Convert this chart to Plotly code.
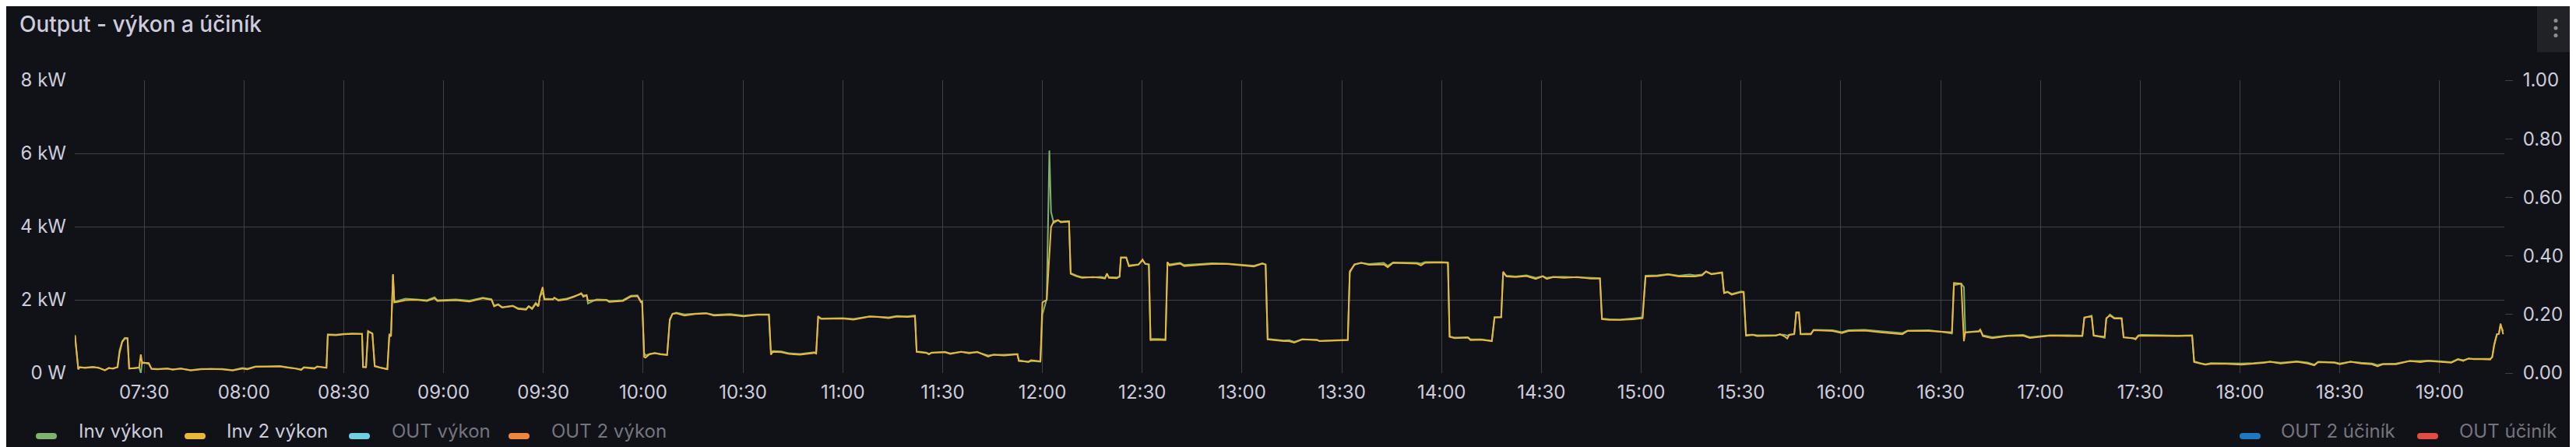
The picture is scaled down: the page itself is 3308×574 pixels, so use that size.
import plotly.graph_objects as go
from datetime import datetime, timedelta

# ---------------- data ----------------
# time in minutes after 07:00
t_min = [
    9.2, 10.2, 10.6, 12.2, 14.6, 16.2, 18.2, 19.4, 20.6, 22.0,
    22.6, 23.4, 24.2, 25.0, 25.5, 27.0, 28.5, 29.0, 29.4, 29.8,
    31.4, 32.2, 34.0, 37.0, 38.6, 41.0, 44.0, 47.0, 50.0, 53.4,
    56.6, 59.5, 61.0, 63.5, 67.0, 70.8, 73.0, 75.6, 77.2, 78.0,
    81.2, 82.0, 84.8, 85.2, 87.6, 90.0, 92.6, 95.5, 95.8, 96.7,
    97.3, 98.6, 99.3, 101.0, 103.1, 103.7, 104.2, 104.8, 105.2, 106.1,
    108.5, 111.8, 115.0, 117.3, 118.1, 123.7, 127.8, 131.8,
    134.4, 135.2, 136.4, 137.6, 140.8, 142.4, 144.8, 145.6, 146.6, 147.7,
    148.5, 149.0, 149.8, 150.3, 152.9, 153.3, 154.5, 156.9, 159.4, 161.4,
    162.0, 163.0, 163.4, 166.0, 169.0, 169.8, 173.9, 176.3, 178.3, 179.3,
    179.7, 180.3, 180.7, 181.9, 183.5, 185.2, 187.2, 188.0, 188.8, 190.0,
    192.4, 195.6, 198.9, 201.3, 206.1, 210.2, 214.2, 217.8, 218.4, 219.0,
    221.5, 223.9, 227.1, 231.5, 232.0, 232.6, 233.5, 240.0, 243.2, 248.1,
    250.5, 253.8, 256.2, 259.4, 261.7, 262.2, 265.1, 265.9, 266.7, 270.7,
    272.3, 275.6, 278.0, 280.4, 283.7, 285.3, 288.5, 292.5, 292.9, 295.8,
    296.6, 299.4, 300.0, 301.3, 302.1, 302.6, 303.4, 304.7, 305.5, 308.0,
    308.5, 310.3, 311.9, 315.2, 317.6, 318.8, 319.4, 320.0, 322.4, 323.2,
    323.6, 325.2, 326.0, 328.9, 330.1, 330.9, 332.0, 332.5, 334.5, 337.0,
    337.6, 338.2, 341.4, 342.6, 347.5, 351.0, 355.6, 360.0, 363.6, 366.1,
    367.1, 367.7, 370.9,
    372.5, 374.1, 375.7, 378.1, 382.5, 383.3, 386.1, 391.8, 392.4, 393.8,
    395.8, 398.2, 402.6, 403.8, 405.4, 412.6, 413.8, 415.0, 419.9, 421.9,
    422.4, 423.9, 427.9, 428.7, 431.9, 435.1, 435.9, 437.9, 438.5, 439.5,
    442.3, 445.5, 448.3, 450.4, 451.6, 453.6, 456.8, 460.8, 464.8, 467.6,
    468.2, 470.4, 473.6, 477.6, 480.4, 481.3, 484.9, 488.1, 491.3, 494.5,
    496.2, 498.3, 499.5, 501.1, 504.3, 504.9, 506.0, 507.2, 510.0, 510.8,
    511.5, 513.6, 514.8, 520.5, 521.7, 522.9, 523.9, 524.5, 526.0, 526.6,
    527.4, 527.9, 531.0, 531.8, 537.5, 540.3, 542.3, 547.2, 552.0, 558.5,
    560.1, 566.5, 570.6, 573.4, 574.0, 576.2, 577.0, 577.4, 581.5, 581.9,
    582.7, 585.5, 590.0, 594.8, 596.8, 599.7, 602.9, 608.5, 612.6, 613.2,
    615.4, 616.0,
    619.3, 619.8, 620.9, 622.2, 624.4, 625.0, 627.8, 628.6, 629.4, 630.2,
    635.9, 641.5, 645.6, 646.2, 648.0, 649.6, 651.2, 656.0, 660.5, 664.1,
    667.4, 669.0, 672.2, 677.1, 680.3, 682.3, 683.5, 688.4, 690.0, 693.2,
    696.4, 699.7, 701.3, 702.9, 706.9, 711.0, 714.2, 716.6, 720.6, 723.5,
    725.5, 727.1, 728.7, 730.3, 732.7, 735.2, 735.8, 736.4, 737.2, 737.8,
    738.3, 739.1,
]

# "Inv 2 výkon" (yellow), kW
inv2_kw = [
    1.03, 0.10, 0.16, 0.14, 0.16, 0.15, 0.07, 0.14, 0.12, 0.16,
    0.55, 0.85, 0.94, 0.95, 0.12, 0.13, 0.15, 0.51, 0.26, 0.28,
    0.27, 0.11, 0.10, 0.12, 0.09, 0.12, 0.07, 0.10, 0.11, 0.10,
    0.07, 0.12, 0.10, 0.17, 0.18, 0.18, 0.15, 0.12, 0.08, 0.15,
    0.12, 0.18, 0.14, 1.04, 1.03, 1.06, 1.07, 1.07, 0.16, 0.16,
    1.13, 1.08, 0.18, 0.14, 0.10, 1.04, 1.00, 2.70, 1.93, 1.94,
    1.99, 2.00, 1.97, 2.04, 1.97, 1.99, 1.95, 2.04,
    2.00, 1.82, 1.87, 1.79, 1.83, 1.75, 1.73, 1.82, 1.75, 1.89,
    1.82, 2.10, 2.35, 2.01, 2.01, 2.06, 1.98, 2.01, 2.09, 2.18,
    2.08, 2.13, 1.98, 1.99, 1.99, 1.94, 1.97, 2.09, 2.10, 1.94,
    1.96, 0.44, 0.42, 0.51, 0.54, 0.51, 0.49, 1.47, 1.61, 1.63,
    1.57, 1.61, 1.63, 1.57, 1.59, 1.55, 1.59, 1.59, 0.50, 0.58,
    0.57, 0.52, 0.50, 0.55, 0.53, 1.53, 1.48, 1.49, 1.46, 1.54,
    1.53, 1.50, 1.54, 1.53, 1.55, 0.58, 0.55, 0.51, 0.56, 0.57,
    0.52, 0.58, 0.54, 0.58, 0.45, 0.50, 0.48, 0.51, 0.33, 0.31,
    0.35, 0.32, 1.93, 2.00, 3.22, 3.99, 4.14, 4.18, 4.12, 4.14,
    2.71, 2.64, 2.60, 2.62, 2.60, 2.58, 2.72, 2.60, 2.59, 2.64,
    3.16, 3.16, 2.92, 2.96, 3.10, 2.98, 2.96, 0.90, 0.91, 0.90,
    3.03, 2.94, 2.99, 2.92, 2.96, 2.98, 2.98, 2.94, 2.91, 2.99,
    2.96, 0.92, 0.88,
    0.87, 0.87, 0.83, 0.92, 0.90, 0.87, 0.88, 0.90, 2.78, 2.96,
    3.01, 2.96, 2.97, 2.89, 3.01, 2.99, 2.94, 3.01, 3.02, 3.01,
    0.99, 0.95, 0.97, 0.90, 0.91, 0.87, 1.52, 1.52, 2.77, 2.64,
    2.62, 2.65, 2.57, 2.64, 2.57, 2.62, 2.60, 2.62, 2.58, 2.58,
    1.47, 1.45, 1.45, 1.47, 1.50, 2.64, 2.65, 2.69, 2.64, 2.65,
    2.64, 2.67, 2.77, 2.70, 2.74, 2.18, 2.21, 2.14, 2.21, 2.21,
    1.02, 1.04, 1.01, 1.02, 1.06, 1.01, 0.94, 1.04, 1.06, 1.66,
    1.66, 1.06, 1.06, 1.17, 1.15, 1.09, 1.15, 1.16, 1.11, 1.06,
    1.15, 1.15, 1.13, 1.11, 2.46, 2.44, 0.87, 1.11, 1.13, 1.18,
    1.01, 0.95, 1.01, 1.02, 0.96, 0.99, 1.02, 1.01, 1.01, 1.52,
    1.54, 1.02,
    0.99, 1.50, 1.57, 1.49, 1.49, 0.97, 0.95, 0.92, 1.01, 1.02,
    1.01, 1.01, 1.02, 0.30, 0.26, 0.23, 0.25, 0.25, 0.23, 0.26,
    0.28, 0.31, 0.26, 0.31, 0.26, 0.21, 0.30, 0.28, 0.24, 0.31,
    0.26, 0.24, 0.18, 0.24, 0.24, 0.33, 0.30, 0.33, 0.30, 0.28,
    0.37, 0.33, 0.40, 0.38, 0.38, 0.37, 0.44, 0.79, 1.06, 1.07,
    1.35, 1.06,
]

# "Inv výkon" (green), kW
inv_kw = [
    1.03, 0.11, 0.16, 0.15, 0.17, 0.14, 0.08, 0.13, 0.13, 0.16,
    0.62, 0.87, 0.96, 0.95, 0.13, 0.13, 0.15, 0.00, 0.30, 0.28,
    0.25, 0.12, 0.11, 0.12, 0.10, 0.12, 0.08, 0.11, 0.11, 0.11,
    0.08, 0.14, 0.12, 0.18, 0.18, 0.19, 0.16, 0.12, 0.10, 0.16,
    0.14, 0.17, 0.15, 1.06, 1.05, 1.07, 1.08, 1.07, 0.17, 0.16,
    1.15, 1.08, 0.20, 0.15, 0.11, 1.06, 1.04, 2.68, 1.95, 1.97,
    2.03, 2.01, 1.99, 2.07, 1.99, 2.01, 1.98, 2.06,
    2.02, 1.84, 1.88, 1.80, 1.84, 1.77, 1.75, 1.83, 1.77, 1.92,
    1.85, 2.10, 2.20, 2.03, 2.02, 2.05, 2.00, 2.03, 2.10, 2.16,
    2.12, 2.12, 1.90, 2.01, 2.00, 1.97, 1.99, 2.11, 2.12, 1.96,
    1.90, 0.55, 0.48, 0.52, 0.55, 0.52, 0.50, 1.43, 1.62, 1.65,
    1.60, 1.62, 1.64, 1.59, 1.61, 1.57, 1.60, 1.60, 0.58, 0.60,
    0.59, 0.54, 0.52, 0.57, 0.55, 1.55, 1.49, 1.50, 1.48, 1.55,
    1.54, 1.52, 1.56, 1.55, 1.57, 0.59, 0.56, 0.53, 0.55, 0.58,
    0.54, 0.58, 0.56, 0.57, 0.48, 0.50, 0.50, 0.52, 0.35, 0.30,
    0.33, 0.31, 1.60, 2.02, 6.08, 4.40, 4.10, 4.17, 4.14, 4.15,
    2.73, 2.66, 2.62, 2.61, 2.63, 2.60, 2.69, 2.62, 2.61, 2.63,
    3.15, 3.15, 2.94, 2.97, 3.08, 2.99, 2.97, 0.93, 0.93, 0.92,
    3.00, 2.97, 3.01, 2.95, 2.98, 3.00, 2.99, 2.96, 2.93, 3.00,
    2.97, 0.93, 0.90,
    0.89, 0.90, 0.85, 0.92, 0.91, 0.88, 0.89, 0.91, 2.74, 2.97,
    3.01, 2.98, 3.01, 2.93, 3.02, 3.01, 2.99, 3.03, 3.03, 3.02,
    1.00, 0.97, 0.98, 0.92, 0.92, 0.88, 1.52, 1.53, 2.72, 2.66,
    2.64, 2.67, 2.60, 2.65, 2.60, 2.63, 2.63, 2.61, 2.60, 2.59,
    1.49, 1.47, 1.46, 1.49, 1.52, 2.66, 2.67, 2.70, 2.66, 2.69,
    2.67, 2.69, 2.78, 2.71, 2.75, 2.20, 2.22, 2.16, 2.23, 2.22,
    1.04, 1.05, 1.03, 1.03, 1.05, 1.05, 1.02, 1.05, 1.07, 1.65,
    1.64, 1.07, 1.08, 1.18, 1.17, 1.12, 1.17, 1.18, 1.14, 1.09,
    1.16, 1.17, 1.12, 1.08, 2.40, 2.44, 2.35, 1.11, 1.15, 1.19,
    1.03, 0.98, 1.02, 1.04, 0.98, 1.00, 1.03, 1.03, 1.02, 1.51,
    1.57, 1.03,
    0.96, 1.48, 1.60, 1.51, 1.50, 0.98, 0.96, 0.94, 1.03, 1.04,
    1.03, 1.02, 1.03, 0.32, 0.27, 0.24, 0.27, 0.26, 0.26, 0.27,
    0.29, 0.31, 0.28, 0.32, 0.29, 0.23, 0.31, 0.29, 0.26, 0.31,
    0.28, 0.26, 0.22, 0.25, 0.26, 0.33, 0.33, 0.34, 0.32, 0.30,
    0.38, 0.35, 0.39, 0.39, 0.40, 0.39, 0.43, 0.75, 1.05, 1.07,
    1.30, 1.14,
]

x_tick_labels = ["07:30", "08:00", "08:30", "09:00", "09:30", "10:00", "10:30",
                 "11:00", "11:30", "12:00", "12:30", "13:00", "13:30", "14:00",
                 "14:30", "15:00", "15:30", "16:00", "16:30", "17:00", "17:30",
                 "18:00", "18:30", "19:00"]
y_left_vals = [0, 2, 4, 6, 8]
y_left_text = ["0 W", "2 kW", "4 kW", "6 kW", "8 kW"]
y_right_vals = [0.0, 0.2, 0.4, 0.6, 0.8, 1.0]
y_right_text = ["0.00", "0.20", "0.40", "0.60", "0.80", "1.00"]

legend_left = ["Inv výkon", "Inv 2 výkon", "OUT výkon", "OUT 2 výkon"]
legend_right = ["OUT 2 účiník", "OUT účiník"]
title_text = "Output - výkon a účiník"

assert len(t_min) == len(inv2_kw) == len(inv_kw), (len(t_min), len(inv2_kw), len(inv_kw))

# ---------------- styling ----------------
W, H = 3308, 574
L, R, T, B = 88, 100, 95, 103
BG = "#111217"
TEXT = "#ccccdc"
TEXT_DIM = "rgba(204,204,220,0.55)"
GRID = "#3f4045"
FONT = "Inter"
GREEN, YELLOW, LBLUE, ORANGE, BLUE, RED = "#7EB26D", "#EAB839", "#6ED0E0", "#EF843C", "#1F78C1", "#E24D42"

BASE = datetime(2024, 5, 15, 7, 0)
xs = [BASE + timedelta(minutes=m) for m in t_min]
x_range = [BASE + timedelta(minutes=9.14), BASE + timedelta(minutes=739.45)]
x_tickvals = [datetime.combine(BASE.date(), datetime.strptime(s, "%H:%M").time()) for s in x_tick_labels]

PW = W - L - R
PH = H - T - B


def px_x(px):
    return (px - L) / PW


def px_y(py):
    return (H - B - py) / PH


fig = go.Figure()
fig.add_trace(go.Scatter(x=xs, y=inv_kw, mode="lines", name=legend_left[0],
                         line=dict(color=GREEN, width=2), showlegend=False, hoverinfo="skip"))
fig.add_trace(go.Scatter(x=xs, y=inv2_kw, mode="lines", name=legend_left[1],
                         line=dict(color=YELLOW, width=2), showlegend=False, hoverinfo="skip"))
# hidden power-factor series live on the right axis (no data shown)
for nm in legend_right:
    fig.add_trace(go.Scatter(x=[], y=[], mode="lines", name=nm, yaxis="y2",
                             showlegend=False, hoverinfo="skip"))

shapes = []
annotations = []

# title
annotations.append(dict(text=title_text, x=px_x(15), y=px_y(23), xref="paper", yref="paper",
                        xanchor="left", yanchor="middle", showarrow=False,
                        font=dict(family=FONT, size=28, color=TEXT, weight=500)))


def pill(x0, x1, yc, h, color):
    r = h / 2
    y0, y1 = yc - r, yc + r
    pts = [
        ("M", x0 + r, y0), ("L", x1 - r, y0), ("Q", x1, y0, x1, yc), ("Q", x1, y1, x1 - r, y1),
        ("L", x0 + r, y1), ("Q", x0, y1, x0, yc), ("Q", x0, y0, x0 + r, y0),
    ]
    d = ""
    for p in pts:
        cmd = p[0]
        coords = p[1:]
        parts = []
        for i in range(0, len(coords), 2):
            parts.append(f"{px_x(coords[i]):.6f},{px_y(coords[i+1]):.6f}")
        d += cmd + " " + " ".join(parts) + " "
    d += "Z"
    return dict(type="path", path=d, xref="paper", yref="paper", fillcolor=color,
                line=dict(width=0), layer="above")


MARK_Y = 552
TEXT_Y = 545
left_items = [(38, 91, GREEN, TEXT), (229, 281, YELLOW, TEXT),
              (440, 493, LBLUE, TEXT_DIM), (645, 698, ORANGE, TEXT_DIM)]
for name, (mx, tx, col, tcol) in zip(legend_left, left_items):
    shapes.append(pill(mx, mx + 27, MARK_Y, 8, col))
    annotations.append(dict(text=name, x=px_x(tx), y=px_y(TEXT_Y), xref="paper", yref="paper",
                            xanchor="left", yanchor="middle", showarrow=False,
                            font=dict(family=FONT, size=24, color=tcol)))
right_items = [(2868, 2919, BLUE, TEXT_DIM), (3096, 3148, RED, TEXT_DIM)]
for name, (mx, tx, col, tcol) in zip(legend_right, right_items):
    shapes.append(pill(mx, mx + 27, MARK_Y, 8, col))
    annotations.append(dict(text=name, x=px_x(tx), y=px_y(TEXT_Y), xref="paper", yref="paper",
                            xanchor="left", yanchor="middle", showarrow=False,
                            font=dict(family=FONT, size=24, color=tcol)))

# menu button (top right)
shapes.append(dict(type="rect", xref="paper", yref="paper", x0=px_x(3250), x1=px_x(3297),
                   y0=px_y(59), y1=px_y(-5), fillcolor="#202226", line=dict(width=0), layer="above"))
for dy in (18.5, 28, 37.5):
    shapes.append(dict(type="circle", xref="paper", yref="paper",
                       x0=px_x(3274 - 2.5), x1=px_x(3274 + 2.5), y0=px_y(dy + 2.5), y1=px_y(dy - 2.5),
                       fillcolor="#8e8e96", line=dict(width=0), layer="above"))

fig.update_layout(
    width=W, height=H,
    margin=dict(l=L, r=R, t=T, b=B, pad=0),
    paper_bgcolor=BG, plot_bgcolor=BG,
    font=dict(family=FONT, size=24, color=TEXT),
    showlegend=False,
    shapes=shapes, annotations=annotations,
    xaxis=dict(type="date", range=x_range, tickvals=x_tickvals, ticktext=x_tick_labels,
               showgrid=True, gridcolor=GRID, gridwidth=1, zeroline=False, showline=False,
               ticks="", ticklabelstandoff=8, tickfont=dict(family=FONT, size=24, color=TEXT),
               fixedrange=True),
    yaxis=dict(range=[0, 8], tickvals=y_left_vals, ticktext=y_left_text,
               showgrid=True, gridcolor=GRID, gridwidth=1, zeroline=False, showline=False,
               ticks="", ticklabelstandoff=10, tickfont=dict(family=FONT, size=24, color=TEXT),
               fixedrange=True),
    yaxis2=dict(range=[0, 1], tickvals=y_right_vals, ticktext=y_right_text, overlaying="y",
                side="right", showgrid=False, zeroline=False, showline=False,
                ticks="outside", ticklen=10, tickwidth=1, tickcolor=GRID, ticklabelstandoff=8,
                tickfont=dict(family=FONT, size=24, color=TEXT), fixedrange=True),
)

fig.write_html("out.html")
